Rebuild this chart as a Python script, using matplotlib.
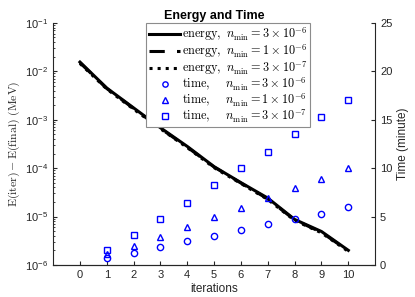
import numpy as np
import matplotlib
matplotlib.use('Agg')
import matplotlib.pyplot as plt

plt.rcParams['font.family'] = ['Liberation Sans', 'DejaVu Sans']
plt.rcParams['mathtext.fontset'] = 'custom'
plt.rcParams['mathtext.rm'] = 'Liberation Sans'
plt.rcParams['mathtext.it'] = 'Liberation Sans:italic'

# iteracoes
iters = np.arange(0, 11)

# energia E(iter)-E(final) (MeV)
energy_a = [1.55e-2, 4.5e-3, 1.75e-3, 6.8e-4, 2.8e-4, 1.07e-4, 5.0e-5, 2.4e-5, 8.7e-6, 4.9e-6, 2.0e-6]
energy_b = [1.50e-2, 4.4e-3, 1.70e-3, 6.6e-4, 2.7e-4, 1.05e-4, 4.9e-5, 2.3e-5, 8.5e-6, 4.7e-6, 1.95e-6]
energy_c = [1.45e-2, 4.3e-3, 1.65e-3, 6.5e-4, 2.65e-4, 1.02e-4, 4.8e-5, 2.25e-5, 8.3e-6, 4.6e-6, 1.9e-6]

# tempo (minutos)
t_iters = np.arange(1, 11)
time_a = [0.7, 1.2, 1.8, 2.45, 3.0, 3.6, 4.2, 4.75, 5.3, 5.95]
time_b = [1.1, 2.0, 2.9, 3.9, 4.9, 5.9, 6.9, 7.9, 8.9, 10.0]
time_c = [1.5, 3.1, 4.75, 6.4, 8.3, 10.0, 11.7, 13.5, 15.3, 17.0]

lab_e = [r'$\mathrm{energy,}\ n_{\mathrm{min}} = 3\times10^{-6}$',
         r'$\mathrm{energy,}\ n_{\mathrm{min}} = 1\times10^{-6}$',
         r'$\mathrm{energy,}\ n_{\mathrm{min}} = 3\times10^{-7}$']
lab_t = [r'$\mathrm{time,}\quad\ n_{\mathrm{min}} = 3\times10^{-6}$',
         r'$\mathrm{time,}\quad\ n_{\mathrm{min}} = 1\times10^{-6}$',
         r'$\mathrm{time,}\quad\ n_{\mathrm{min}} = 3\times10^{-7}$']

gray = '#262626'

fig = plt.figure(figsize=(4.15, 2.97), dpi=100)
ax = fig.add_axes([0.128, 0.108, 0.776, 0.815])
ax2 = ax.twinx()

h1, = ax.plot(iters, energy_a, '-', color='k', lw=2.2)
h2, = ax.plot(iters, energy_b, '--', color='k', lw=2.2, dashes=(5, 4))
h3, = ax.plot(iters, energy_c, ':', color='k', lw=2.2)
ax.set_yscale('log')
ax.set_ylim(1e-6, 1e-1)
ax.set_xlim(-1, 11)
ax.set_xticks(iters)

h4, = ax2.plot(t_iters, time_a, 'o', mfc='none', mec='b', ms=4.5, mew=1)
h5, = ax2.plot(t_iters, time_b, '^', mfc='none', mec='b', ms=5, mew=1)
h6, = ax2.plot(t_iters, time_c, 's', mfc='none', mec='b', ms=4.5, mew=1)
ax2.set_ylim(0, 25)
ax2.set_yticks([0, 5, 10, 15, 20, 25])

for a in (ax, ax2):
    a.spines['top'].set_visible(False)
    for s in a.spines.values():
        s.set_color(gray)
    a.tick_params(which='both', direction='in', colors=gray, labelsize=8, labelcolor=gray)
    a.tick_params(which='major', length=3)
    a.tick_params(which='minor', length=1.5)
ax.spines['right'].set_visible(False)
ax2.spines['left'].set_visible(False)

ax.set_xlabel('iterations', fontsize=8.5, color=gray, labelpad=2)
yl = ax.set_ylabel(r'$\mathrm{E(iter)}-\mathrm{E(final)\ (MeV)}$', fontsize=8.5, color=gray, labelpad=2)
yl.set_math_fontfamily('cm')
ax2.set_ylabel('Time (minute)', fontsize=8.5, color=gray, labelpad=3)
ax.set_title('Energy and Time', fontsize=9, fontweight='bold', pad=3)

leg = ax2.legend([h1, h2, h3, h4, h5, h6], lab_e + lab_t, loc='upper center',
                 bbox_to_anchor=(0.543, 1.0), borderaxespad=0, fontsize=8.8,
                 fancybox=False, framealpha=1, edgecolor='#8c8c8c',
                 handlelength=2.6, handletextpad=0.1, labelspacing=-0.1,
                 borderpad=0.2, markerscale=0.85)
leg.get_frame().set_linewidth(0.8)
for t in leg.get_texts():
    t.set_math_fontfamily('cm')

fig.savefig('out.png', dpi=100)
